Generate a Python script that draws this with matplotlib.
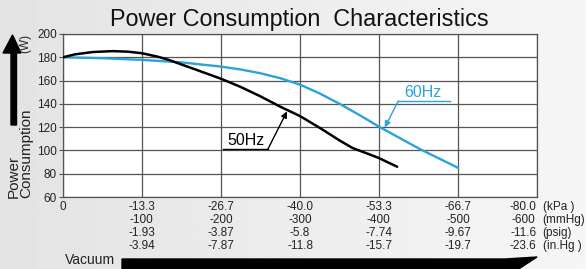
import numpy as np
import matplotlib
matplotlib.use("Agg")
import matplotlib.pyplot as plt
from matplotlib.patches import Polygon

plt.rcParams['font.family'] = ['Liberation Sans', 'DejaVu Sans']

# vacuum (kPa) vs power (W)
x50 = [0, -2, -5, -8.4, -11, -13.3, -16, -18, -21, -24, -26.7, -30, -33.3,
       -36.7, -40, -43.3, -46.7, -48.9, -51, -53.3, -56.4]
y50 = [180, 182.5, 184.5, 185.3, 184.8, 183.5, 180.5, 177.5, 172, 166.5, 161.5,
       154.5, 146.5, 137.5, 129.5, 119.5, 108.5, 102, 98, 93.5, 86]

x60 = [0, -6.7, -13.3, -20, -26.7, -30, -33.3, -36.7, -40, -43.3, -46.7, -50,
       -53.3, -56.7, -60.3, -63.3, -66.7]
y60 = [180, 179.2, 177.8, 175.6, 172, 169.5, 166.3, 162, 156.5, 149, 140, 130.5,
       120.5, 111, 101, 93.5, 85]

kpa = [0, -13.3, -26.7, -40.0, -53.3, -66.7, -80.0]
kpa_lbl = ["0", "-13.3", "-26.7", "-40.0", "-53.3", "-66.7", "-80.0"]
mmhg_lbl = ["", "-100", "-200", "-300", "-400", "-500", "-600"]
psig_lbl = ["", "-1.93", "-3.87", "-5.8", "-7.74", "-9.67", "-11.6"]
inhg_lbl = ["", "-3.94", "-7.87", "-11.8", "-15.7", "-19.7", "-23.6"]
units = ["(kPa )", "(mmHg)", "(psig)", "(in.Hg )"]
yticks = [60, 80, 100, 120, 140, 160, 180, 200]

BLUE = "#2ba3d8"
W, H = 586, 269


def px(x, y):
    return (x / W, 1 - y / H)


fig = plt.figure(figsize=(W / 100, H / 100), dpi=100)

# grey gradient background
bg = fig.add_axes([0, 0, 1, 1], zorder=-5)
grad = np.linspace(0.89, 0.965, 256).reshape(1, -1)
bg.imshow(grad, cmap='gray', vmin=0, vmax=1, aspect='auto', extent=[0, 1, 0, 1])
bg.axis('off')

ax = fig.add_axes([63 / W, 1 - 197 / H, 474 / W, 163 / H])
ax.set_facecolor('white')
ax.set_xlim(0, -80)
ax.set_ylim(60, 200)
ax.set_xticks(kpa)
ax.set_xticklabels([])
ax.set_yticks(yticks)
ax.set_yticklabels([str(v) for v in yticks], fontsize=8.5, color='#222222')
ax.tick_params(axis='x', length=0)
ax.tick_params(axis='y', length=3, width=0.8, color='#555555', pad=1.5)
ax.grid(True, color='#555555', lw=0.9)
ax.set_axisbelow(True)
for s in ax.spines.values():
    s.set_color('#555555')
    s.set_linewidth(0.9)

ax.plot(x60, y60, color=BLUE, lw=1.7, solid_capstyle='round', zorder=3)
ax.plot(x50, y50, color='black', lw=1.8, solid_capstyle='round', zorder=4)

# bottom multi-unit labels
rows = [kpa_lbl, mmhg_lbl, psig_lbl, inhg_lbl]
for r, labels in enumerate(rows):
    for i, (xv, lab) in enumerate(zip(kpa, labels)):
        dx = -10 if i == len(kpa) - 1 else 0
        ax.annotate(lab, xy=(xv, 0), xycoords=('data', 'axes fraction'),
                    xytext=(dx, -3 - r * 9.4), textcoords='offset points',
                    ha='center', va='top', fontsize=8.5, color='#222222')
    ax.annotate(units[r], xy=(1, 0), xycoords='axes fraction',
                xytext=(4, -3 - r * 9.4), textcoords='offset points',
                ha='left', va='top', fontsize=8.5, color='#222222')

# curve labels with leaders
ax.plot([-56.6, -65.3], [142.5, 142.5], color=BLUE, lw=1.0)
ax.annotate("", xy=(-54.3, 119.8), xytext=(-56.6, 142.5),
            arrowprops=dict(arrowstyle='-|>', color=BLUE, lw=1.0,
                            mutation_scale=9, shrinkA=0, shrinkB=0))
ax.text(-60.8, 143.5, "60Hz", color=BLUE, fontsize=11.5, ha='center', va='bottom')

ax.plot([-27.0, -34.6], [101.3, 101.3], color='black', lw=1.0)
ax.annotate("", xy=(-37.8, 133.5), xytext=(-34.6, 101.3),
            arrowprops=dict(arrowstyle='-|>', color='black', lw=1.0,
                            mutation_scale=9, shrinkA=0, shrinkB=0))
ax.text(-30.8, 102.3, "50Hz", color='black', fontsize=11.5, ha='center', va='bottom')

# title and axis texts
fig.text(*px(299, 26), "Power Consumption  Characteristics", fontsize=16.8,
         ha='center', va='baseline', color='#111111')
fig.text(*px(25, 43), "(W)", rotation=90, fontsize=8.5, ha='center', va='center',
         color='#222222')
fig.text(*px(20, 198), "Power\nConsumption", rotation=90, fontsize=11,
         ha='center', va='bottom', multialignment='left', linespacing=0.95,
         color='#222222')
fig.text(*px(90, 260), "Vacuum", fontsize=10, ha='center', va='center',
         color='#222222')

# big arrows
up = [(11, 125), (11, 53), (3, 53), (12.5, 35), (21, 53), (16.5, 53), (16.5, 125)]
fig.patches.append(Polygon([px(*p) for p in up], closed=True, color='black',
                           transform=fig.transFigure, figure=fig))
right = [(122, 259), (505, 259), (537, 257), (514, 272), (122, 272)]
fig.patches.append(Polygon([px(*p) for p in right], closed=True, color='black',
                           transform=fig.transFigure, figure=fig))

fig.savefig("out.png", dpi=100)
